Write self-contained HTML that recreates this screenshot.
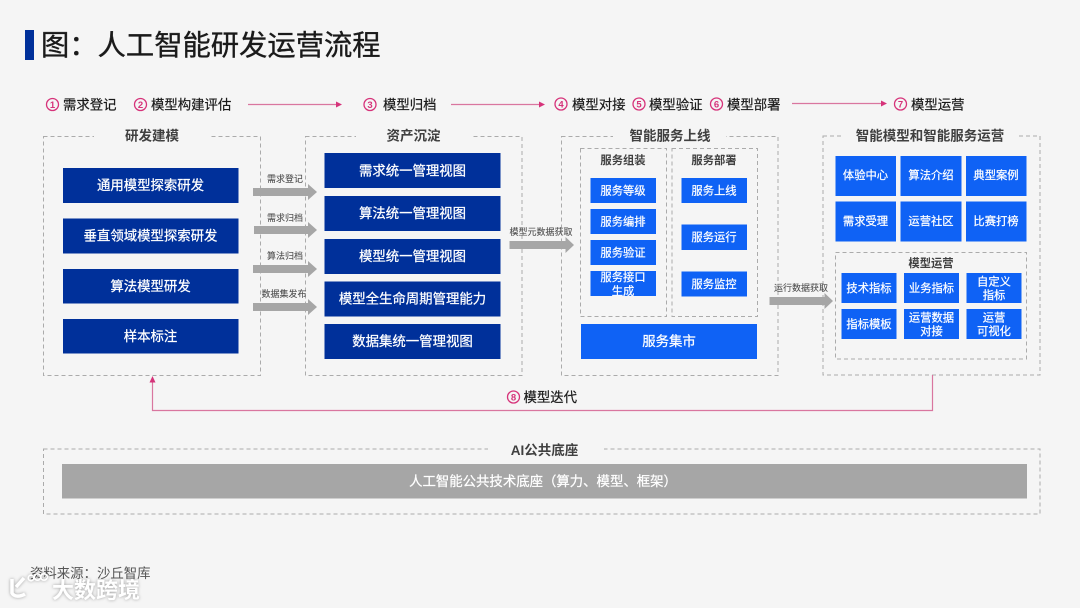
<!DOCTYPE html>
<html lang="zh"><head><meta charset="utf-8"><style>
html,body{margin:0;padding:0;background:#f5f5f5;width:1080px;height:608px;overflow:hidden}
svg{display:block}
text{font-family:"Liberation Sans","Noto Sans CJK SC",sans-serif}
.d{fill:none;stroke:#ababab;stroke-width:1;stroke-dasharray:4 3}
.n{fill:#00309a}
.b{fill:#0f62f5}
.g{fill:#a6a6a6}
.w{fill:#fff;text-anchor:middle;font-size:13.4px;stroke:#fff;stroke-width:.25px}
.ws{fill:#fff;text-anchor:middle;font-size:11.3px;stroke:#fff;stroke-width:.22px}
.t{fill:#404040;text-anchor:middle;font-size:13.5px;font-weight:700}
.ts{fill:#404040;text-anchor:middle;font-size:11.3px;font-weight:700}
.l{fill:#505050;text-anchor:middle;font-size:9px;stroke:#505050;stroke-width:.1px}
.f{fill:#1a1a1a;font-size:13.4px;stroke:#1a1a1a;stroke-width:.2px}
.c{fill:none;stroke:#d6337a;stroke-width:1.3}
.cn{fill:#d6337a;font-size:9.5px;font-weight:700;text-anchor:middle}
.p{stroke:#d9769f;stroke-width:1.2;fill:none}
.h{fill:#d6337a}
.bg{fill:#f5f5f5}
</style></head><body>
<svg width="1080" height="608" viewBox="0 0 1080 608" xmlns="http://www.w3.org/2000/svg">
<rect width="1080" height="608" fill="#f5f5f5"/>
<rect x="25" y="30" width="9" height="30" class="n"/>
<text x="41" y="55" font-size="28.3" fill="#1a1a1a" stroke="#1a1a1a" stroke-width=".35">图：人工智能研发运营流程</text>

<!-- flow -->
<circle cx="52.5" cy="104.5" r="6" class="c"/><text x="52.5" y="108" class="cn">1</text>
<text x="63" y="109.5" class="f">需求登记</text>
<circle cx="140.5" cy="104.5" r="6" class="c"/><text x="140.5" y="108" class="cn">2</text>
<text x="151" y="109.5" class="f">模型构建评估</text>
<path d="M248 104.5H337" class="p"/><path d="M336 101.5l6 3-6 3z" class="h"/>
<circle cx="370" cy="104.5" r="6" class="c"/><text x="370" y="108" class="cn">3</text>
<text x="383" y="109.5" class="f">模型归档</text>
<path d="M451 104.5H540" class="p"/><path d="M539 101.5l6 3-6 3z" class="h"/>
<circle cx="561" cy="104" r="6" class="c"/><text x="561" y="107.5" class="cn">4</text>
<text x="572" y="109.5" class="f">模型对接</text>
<circle cx="639" cy="104" r="6" class="c"/><text x="639" y="107.5" class="cn">5</text>
<text x="649" y="109.5" class="f">模型验证</text>
<circle cx="716.5" cy="104" r="6" class="c"/><text x="716.5" y="107.5" class="cn">6</text>
<text x="727" y="109.5" class="f">模型部署</text>
<path d="M792 103.5H882" class="p"/><path d="M881 100.5l6 3-6 3z" class="h"/>
<circle cx="900.5" cy="104" r="6" class="c"/><text x="900.5" y="107.5" class="cn">7</text>
<text x="911" y="109.5" class="f">模型运营</text>

<!-- outer dashed boxes -->
<rect x="43.5" y="136.5" width="217" height="239" class="d"/>
<rect x="94" y="130" width="116" height="12" class="bg"/>
<text x="152" y="140.500" class="t">研发建模</text>
<rect x="305.5" y="136.5" width="216.500" height="239" class="d"/>
<rect x="356" y="130" width="116" height="12" class="bg"/>
<text x="413.500" y="140.500" class="t">资产沉淀</text>
<rect x="561.500" y="136.500" width="216.500" height="239" class="d"/>
<rect x="613" y="130" width="113" height="12" class="bg"/>
<text x="670" y="140.500" class="t">智能服务上线</text>
<rect x="823" y="136" width="217" height="239" class="d"/>
<rect x="843" y="130" width="175" height="12" class="bg"/>
<text x="930" y="140.500" class="t">智能模型和智能服务运营</text>

<!-- column 1 -->
<rect x="63" y="168" width="175.500" height="35" class="n"/><text x="150.500" y="190" class="w">通用模型探索研发</text>
<rect x="63" y="218.500" width="175.500" height="35" class="n"/><text x="150.500" y="240.500" class="w">垂直领域模型探索研发</text>
<rect x="63" y="269" width="175.500" height="34.500" class="n"/><text x="150.500" y="291" class="w">算法模型研发</text>
<rect x="63" y="319" width="175.500" height="34.500" class="n"/><text x="150.500" y="341" class="w">样本标注</text>

<!-- arrows 1-2 -->
<path d="M253 188h55v-4l9 8-9 8v-4h-55z" class="g"/><text x="285" y="182" class="l">需求登记</text>
<path d="M254 226h54v-4l9 8-9 8v-4h-54z" class="g"/><text x="285" y="221" class="l">需求归档</text>
<path d="M253 265h55v-4l9 8-9 8v-4h-55z" class="g"/><text x="285" y="259" class="l">算法归档</text>
<path d="M253 303h55v-4l9 8-9 8v-4h-55z" class="g"/><text x="284" y="297" class="l">数据集发布</text>

<!-- column 2 -->
<rect x="324.500" y="153" width="176" height="35" class="n"/><text x="412.500" y="175.500" class="w">需求统一管理视图</text>
<rect x="324.500" y="196" width="176" height="35" class="n"/><text x="412.500" y="218" class="w">算法统一管理视图</text>
<rect x="324.500" y="239" width="176" height="35" class="n"/><text x="412.500" y="261" class="w">模型统一管理视图</text>
<rect x="324.500" y="281.500" width="176" height="35" class="n"/><text x="412.500" y="303.500" class="w">模型全生命周期管理能力</text>
<rect x="324.500" y="324" width="176" height="35" class="n"/><text x="412.500" y="346" class="w">数据集统一管理视图</text>

<!-- arrow 2-3 -->
<path d="M509.500 241h56v-4l8.500 8-8.500 8v-4h-56z" class="g"/><text x="541" y="235" class="l">模型元数据获取</text>

<!-- column 3 -->
<rect x="580.500" y="148.500" width="86" height="168" class="d"/>
<rect x="672" y="148.500" width="85.500" height="168" class="d"/>
<text x="623" y="164" class="ts">服务组装</text>
<text x="714" y="164" class="ts">服务部署</text>
<rect x="590.500" y="178" width="65.500" height="25" class="b"/><text x="623" y="194.500" class="ws">服务等级</text>
<rect x="590.500" y="209" width="65.500" height="25" class="b"/><text x="623" y="225.500" class="ws">服务编排</text>
<rect x="590.500" y="240" width="65.500" height="25" class="b"/><text x="623" y="256.500" class="ws">服务验证</text>
<rect x="590.500" y="271" width="65.500" height="25" class="b"/><text x="623" y="281" class="ws">服务接口</text><text x="623" y="295" class="ws">生成</text>
<rect x="681.500" y="178" width="65.500" height="25" class="b"/><text x="714" y="194.500" class="ws">服务上线</text>
<rect x="681.500" y="224.500" width="65.500" height="25.500" class="b"/><text x="714" y="241" class="ws">服务运行</text>
<rect x="681.500" y="271.500" width="65.500" height="25" class="b"/><text x="714" y="288" class="ws">服务监控</text>
<rect x="581" y="324" width="176" height="35" class="b"/><text x="669" y="346" class="w">服务集市</text>

<!-- arrow 3-4 -->
<path d="M769.500 297h55v-4l8.500 8-8.500 8v-4h-55z" class="g"/><text x="801" y="291" class="l">运行数据获取</text>

<!-- column 4 -->
<rect x="835.500" y="156" width="60.500" height="40" class="b"/><text x="865.500" y="179" class="ws">体验中心</text>
<rect x="900.500" y="156" width="61" height="40" class="b"/><text x="931" y="179" class="ws">算法介绍</text>
<rect x="966" y="156" width="60.500" height="40" class="b"/><text x="996" y="179" class="ws">典型案例</text>
<rect x="835.500" y="201.500" width="60.500" height="40" class="b"/><text x="865.500" y="225" class="ws">需求受理</text>
<rect x="900.500" y="201.500" width="61" height="40" class="b"/><text x="931" y="225" class="ws">运营社区</text>
<rect x="966" y="201.500" width="60.500" height="40" class="b"/><text x="996" y="225" class="ws">比赛打榜</text>
<rect x="835.500" y="252.500" width="191" height="106.500" class="d"/>
<text x="931" y="267" class="ts">模型运营</text>
<rect x="841.500" y="273" width="55" height="30" class="b"/><text x="869" y="292" class="ws">技术指标</text>
<rect x="904" y="273" width="55" height="30" class="b"/><text x="931.500" y="292" class="ws">业务指标</text>
<rect x="966.500" y="273" width="55" height="30" class="b"/><text x="994" y="285.500" class="ws">自定义</text><text x="994" y="299" class="ws">指标</text>
<rect x="841.500" y="309" width="55" height="30" class="b"/><text x="869" y="328" class="ws">指标模板</text>
<rect x="904" y="309" width="55" height="30" class="b"/><text x="931.500" y="321.500" class="ws">运营数据</text><text x="931.500" y="335" class="ws">对接</text>
<rect x="966.500" y="309" width="55" height="30" class="b"/><text x="994" y="321.500" class="ws">运营</text><text x="994" y="335" class="ws">可视化</text>

<!-- feedback -->
<path d="M932.500 375V410.500H152.500V382" class="p"/>
<path d="M149.500 382.500l3-6.500 3 6.500z" class="h"/>
<circle cx="513.500" cy="397" r="6" class="c"/><text x="513.500" y="400.500" class="cn">8</text>
<text x="523.500" y="402" class="f">模型迭代</text>

<!-- base -->
<rect x="43.500" y="449" width="996.500" height="65" class="d"/>
<rect x="488" y="443" width="116" height="12" class="bg"/>
<text x="544.500" y="455" class="t">AI公共底座</text>
<rect x="62" y="464" width="965" height="34.500" class="g"/>
<text x="543" y="486" class="w">人工智能公共技术底座（算力、模型、框架）</text>

<!-- source -->
<text x="30" y="578" font-size="13.400" fill="#555">资料来源：沙丘智库</text>
<!-- watermark -->
<g style="filter:drop-shadow(0 0 1.500px rgba(0,0,0,.35))">
<path d="M12 579v14c2 4 8 4 13 1M16 587l8-9" fill="none" stroke="#fff" stroke-width="3.500"/>
<circle cx="31" cy="578" r="2.800" fill="none" stroke="#fff" stroke-width="1.600"/>
<circle cx="37.500" cy="577" r="3.200" fill="none" stroke="#fff" stroke-width="1.600"/>
<circle cx="44" cy="577" r="3.200" fill="none" stroke="#fff" stroke-width="1.600"/>
<text x="52" y="598" font-size="22" font-weight="700" fill="#fff">大数跨境</text>
</g>
</svg>
</body></html>
